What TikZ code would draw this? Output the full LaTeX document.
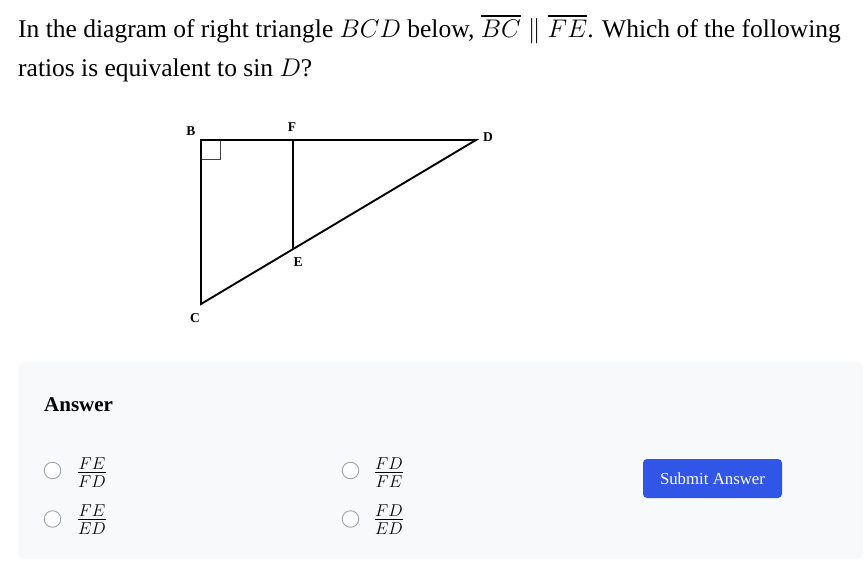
\RequirePackage{fix-cm}
\documentclass[tikz,border=0pt]{standalone}
\usepackage{amsmath,amssymb}
\usepackage{fontspec}
\setmainfont{Liberation Serif}
\usetikzlibrary{calc}

\definecolor{panelgray}{RGB}{248,249,251}
\definecolor{radiogray}{RGB}{160,164,172}
\definecolor{btnblue}{RGB}{49,85,231}

\tikzset{
  side/.style={line width=1.9pt,line join=miter},
  ptlabel/.style={font=\fontsize{13.5}{15}\selectfont\bfseries,inner sep=0pt},
  radio/.style={circle,draw=radiogray,line width=0.9pt,fill=white,minimum size=16.5pt,inner sep=0pt},
  choice/.style={font=\fontsize{24.5}{28}\selectfont,inner sep=0pt}
}

\begin{document}
\begin{tikzpicture}[x=1pt,y=-1pt]
              \useasboundingbox[fill=white] (0,0) rectangle (865,570);
              % question
              \node[anchor=base west,inner sep=0pt,font=\fontsize{25.5}{30}\selectfont] (q1) at (18,37)
                {In the diagram of right triangle $BCD$ below, $\overline{BC}\parallel\overline{FE}$. Which of the following};
              \node[anchor=base west,inner sep=0pt,font=\fontsize{25.5}{30}\selectfont] (q2) at (18,76)
                {ratios is equivalent to sin $D$?};
              % triangle
              \coordinate (B) at (201,140);
              \coordinate (C) at (201,304);
              \coordinate (D) at (476,140);
              \coordinate (F) at ($(B)!0.333!(D)$);
              \coordinate (E) at ($(C)!0.333!(D)$);
              % \coordinate (M) at ($(B)!0.5!(C)$);
              \draw[line width=0.8pt,black!75] ($(B)+(0,19.5)$) -| ($(B)+(19.5,0)$);
              \draw[side] (B)--(D)--(C)--cycle;
              \draw[side] (F)--(E);
              \node[ptlabel] (lB) at (191,131) {B};
              \node[ptlabel] (lF) at (292,127) {F};
              \node[ptlabel] (lD) at (488,137) {D};
              \node[ptlabel] (lE) at (298,262) {E};
              \node[ptlabel] (lC) at (195,318) {C};
              % answer panel
              \begin{scope}
                \fill[panelgray,rounded corners=7pt] (18,362) rectangle (863,559);
                \node[anchor=base west,inner sep=0pt,font=\fontsize{21}{24}\selectfont\bfseries] (ans) at (44,411) {Answer};
                \node[radio] (r1) at (52.5,470.5) {};
                \node[radio] (r2) at (52.5,519) {};
                \node[radio] (r3) at (350.5,470.5) {};
                \node[radio] (r4) at (350.5,519) {};
                \node[choice] (c1) at (92,472.5) {$\frac{FE}{FD}$};
                \node[choice] (c2) at (92,519.5) {$\frac{FE}{ED}$};
                \node[choice] (c3) at (389,472.5) {$\frac{FD}{FE}$};
                \node[choice] (c4) at (389,519.5) {$\frac{FD}{ED}$};
                \node[fill=btnblue,rounded corners=4pt,minimum width=139pt,minimum height=39pt,
                      text=white,font=\fontsize{16.8}{19}\selectfont] (submit) at (712.5,478.5) {Submit Answer};
              \end{scope}
\end{tikzpicture}
\end{document}
